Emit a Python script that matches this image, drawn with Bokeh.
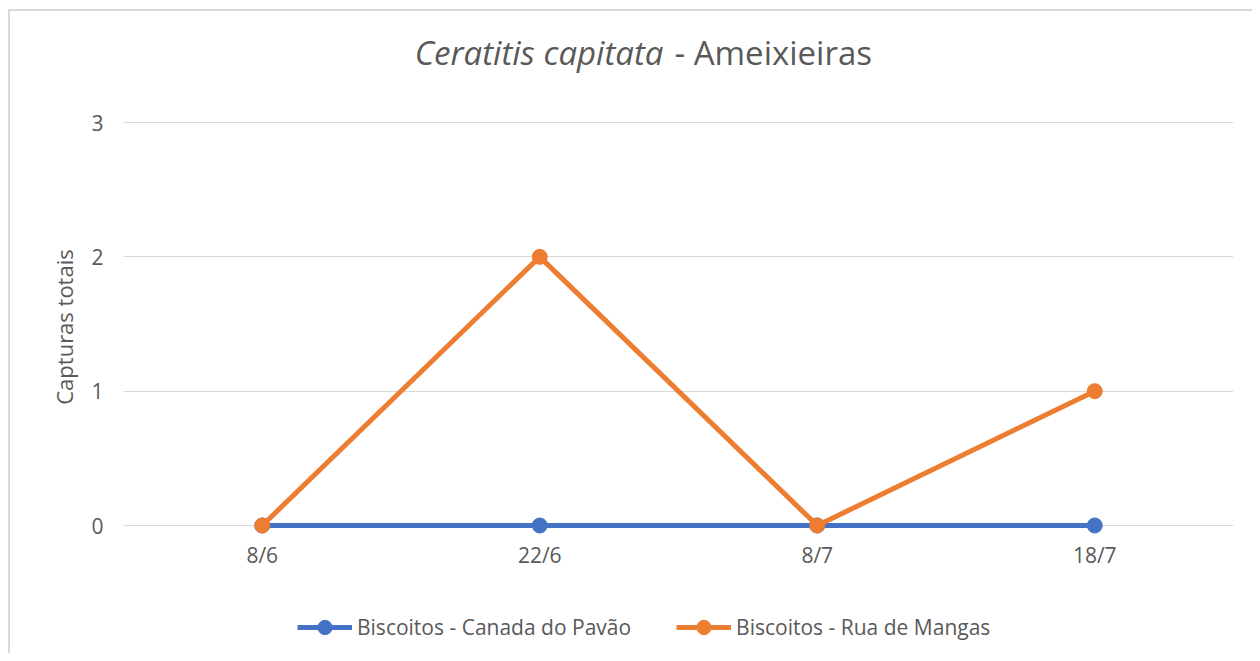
from bokeh.plotting import figure
from bokeh.models import Label, Legend, LegendItem, FactorRange, Range1d, FixedTicker
from bokeh.embed import file_html
from bokeh.resources import INLINE

dates = ["8/6", "22/6", "8/7", "18/7"]
canada_pavao = [0, 0, 0, 0]
rua_mangas = [0, 2, 0, 1]
series_names = ["Biscoitos - Canada do Pavão", "Biscoitos - Rua de Mangas"]
y_ticks = [0, 1, 2, 3]

FONT = "Open Sans"
TXT = "#595959"
BLUE = "#4472C4"
ORANGE = "#ED7D31"
BORDER = "#d9d9d9"

W, H = 1252, 653
LEFT, RIGHT = 123, 1233
TOP_PX, ZERO_PX, THREE_PX = 0, 525, 122
unit = (ZERO_PX - THREE_PX) / 3.0
y_top = 3 + (THREE_PX - TOP_PX) / unit
y_bot = -(H - ZERO_PX) / unit

p = figure(x_range=FactorRange(*dates, range_padding=0), y_range=Range1d(y_bot, y_top),
           width=W, height=H, output_backend="svg", toolbar_location=None,
           min_border_left=LEFT, min_border_right=W - RIGHT, min_border_top=0, min_border_bottom=0)
p.outline_line_color = None
p.background_fill_color = None
p.border_fill_color = None
# chart-area border (top and left edges visible in the reference)
p.styles = {
    "background": (f"linear-gradient({BORDER},{BORDER}) 8px 9px / 100% 2px no-repeat, "
                   f"linear-gradient({BORDER},{BORDER}) 8px 9px / 2px 100% no-repeat, white"),
}

p.xgrid.grid_line_color = None
p.ygrid.grid_line_color = BORDER
p.ygrid.grid_line_width = 1
p.yaxis.ticker = FixedTicker(ticks=y_ticks)
p.xaxis.fixed_location = 0

for ax in (p.xaxis[0], p.yaxis[0]):
    ax.axis_line_color = None
    ax.major_tick_line_color = None
    ax.minor_tick_line_color = None
    ax.major_label_text_font = FONT
    ax.major_label_text_color = TXT
    ax.major_label_text_font_size = "21px"
    ax.axis_label_text_font = FONT
    ax.axis_label_text_color = TXT
    ax.axis_label_text_font_size = "22px"
    ax.axis_label_text_font_style = "normal"

p.xaxis.major_label_standoff = 9
p.yaxis.major_label_standoff = 14
p.yaxis.axis_label = "Capturas totais"
p.yaxis.axis_label_standoff = 9

l1 = p.line(dates, canada_pavao, line_color=BLUE, line_width=5)
s1 = p.scatter(dates, canada_pavao, size=15, fill_color=BLUE, line_color=BLUE)
l2 = p.line(dates, rua_mangas, line_color=ORANGE, line_width=5)
s2 = p.scatter(dates, rua_mangas, size=15, fill_color=ORANGE, line_color=ORANGE)

GH = 36
legend = Legend(items=[LegendItem(label=series_names[0], renderers=[l1, s1]),
                       LegendItem(label=series_names[1], renderers=[l2, s2])],
                orientation="horizontal", location=(174, H - (627 + GH // 2)),
                glyph_width=55, glyph_height=GH, label_height=GH, label_standoff=5, spacing=45,
                padding=0, margin=0, border_line_color=None, background_fill_alpha=0,
                label_text_font=FONT, label_text_color=TXT, label_text_font_size="21px")
p.add_layout(legend, "center")

px_per_cat = (RIGHT - LEFT) / 4.0
x_split_r = (663 - LEFT) / px_per_cat
x_split_l = (674 - LEFT) / px_per_cat
y_base = 3 + (THREE_PX - 52) / unit
t1 = Label(x=x_split_r, y=y_base, text="Ceratitis capitata", text_align="right",
           text_baseline="alphabetic", text_font=FONT, text_font_style="italic",
           text_font_size="33px", text_color=TXT)
t2 = Label(x=x_split_l, y=y_base, text="- Ameixieiras", text_align="left",
           text_baseline="alphabetic", text_font=FONT,
           text_font_size="33px", text_color=TXT)
p.add_layout(t1)
p.add_layout(t2)

open("out.html", "w").write(file_html(p, INLINE))
